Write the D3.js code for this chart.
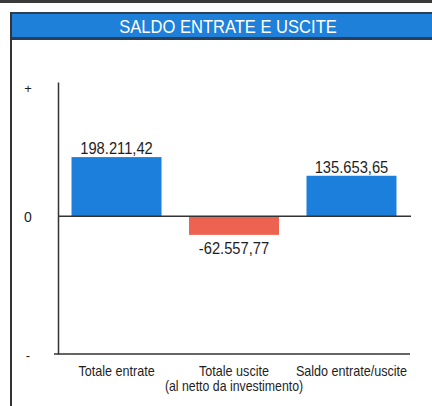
<!DOCTYPE html>
<html>
<head>
<meta charset="utf-8">
<script src="https://cdn.jsdelivr.net/npm/d3@7"></script>
<style>
  body { margin: 0; background: #fff; }
  svg { display: block; font-family: "Liberation Sans", Arial, sans-serif; }
</style>
</head>
<body>
<script>
// dati del grafico
const categories = ["Totale entrate", "Totale uscite", "Saldo entrate/uscite"];
const subLabels = ["", "(al netto da investimento)", ""];
const values = [198211.42, -62557.77, 135653.65];
const valueLabels = ["198.211,42", "-62.557,77", "135.653,65"];
const yTickLabels = ["+", "0", "-"];

const w = 432, h = 406;
const ink = "#1e1e1e";

const svg = d3.select("body").append("svg")
  .attr("width", w)
  .attr("height", h);

// cornice e intestazione
svg.append("rect").attr("x", 0).attr("y", 0).attr("width", w).attr("height", 3).attr("fill", "#3a3a3a");
svg.append("rect").attr("x", 10).attr("y", 12).attr("width", w - 10).attr("height", 28).attr("fill", "#2a3f5a");
svg.append("rect").attr("x", 11).attr("y", 14).attr("width", w - 11).attr("height", 23).attr("fill", "#1f80da");
svg.append("line")
  .attr("x1", 11).attr("x2", 11).attr("y1", 12).attr("y2", h)
  .attr("stroke", "#333").attr("stroke-width", 2);

svg.append("g")
  .attr("transform", "translate(228,33)")
  .append("text")
  .attr("transform", "scale(0.92,1)")
  .attr("text-anchor", "middle")
  .attr("fill", "#fff")
  .style("font-size", "18px")
  .text("SALDO ENTRATE E USCITE");

// scale
const xScale = d3.scaleBand()
  .domain(categories)
  .range([58, 410])
  .paddingInner(0.234)
  .paddingOuter(0.115);

const yScale = d3.scaleLinear()
  .domain([-462000, 450000])
  .range([354, 82]);

// asse y: solo la linea
const yAxis = d3.axisLeft(yScale).tickValues([]).tickSizeOuter(0);
svg.append("g")
  .attr("transform", "translate(58,0)")
  .call(yAxis)
  .call(g => g.select(".domain").attr("stroke", "#333").attr("stroke-width", 1.5));

// etichette + 0 -
const yPos = [yScale.domain()[1], 0, yScale.domain()[0]];
svg.selectAll(".ylab")
  .data(yTickLabels)
  .enter().append("text")
  .attr("class", "ylab")
  .attr("x", 28)
  .attr("y", (d, i) => yScale(yPos[i]) + (i === 0 ? 11 : 6))
  .attr("text-anchor", "middle")
  .attr("fill", ink)
  .style("font-size", (d, i) => i === 1 ? "14px" : "13px")
  .text(d => d);

// barre
svg.selectAll(".bar")
  .data(values)
  .enter().append("rect")
  .attr("class", "bar")
  .attr("x", (d, i) => xScale(categories[i]))
  .attr("width", xScale.bandwidth())
  .attr("y", d => yScale(Math.max(0, d)))
  .attr("height", d => Math.abs(yScale(d) - yScale(0)))
  .attr("fill", d => d < 0 ? "#ec6352" : "#1c7fdc");

// linea dello zero
svg.append("line")
  .attr("x1", 58).attr("x2", 411)
  .attr("y1", yScale(0)).attr("y2", yScale(0))
  .attr("stroke", "#333").attr("stroke-width", 1.5);

// asse x in basso
const xAxis = d3.axisBottom(xScale).tickSize(0).tickPadding(12);
svg.append("g")
  .attr("transform", "translate(0,354)")
  .call(xAxis)
  .call(g => g.select(".domain").attr("d", "M54,0H410").attr("stroke", "#333").attr("stroke-width", 1.5))
  .call(g => g.selectAll(".tick text")
    .attr("transform", "scale(0.9,1)")
    .attr("fill", ink)
    .style("font-size", "14px")
    .style("font-family", "'Liberation Sans', Arial, sans-serif"));

svg.selectAll(".sublab")
  .data(subLabels)
  .enter().append("g")
  .attr("class", "sublab")
  .attr("transform", (d, i) => "translate(" + (xScale(categories[i]) + xScale.bandwidth() / 2) + ",391)")
  .append("text")
  .attr("transform", "scale(0.88,1)")
  .attr("text-anchor", "middle")
  .attr("fill", ink)
  .style("font-size", "14px")
  .text(d => d);

// valori sopra/sotto le barre
svg.selectAll(".val")
  .data(values)
  .enter().append("g")
  .attr("class", "val")
  .attr("transform", (d, i) => "translate(" + (xScale(categories[i]) + xScale.bandwidth() / 2) + "," +
    (d < 0 ? yScale(d) + 19 : yScale(d) - 3) + ")")
  .append("text")
  .attr("transform", "scale(0.92,1)")
  .attr("text-anchor", "middle")
  .attr("fill", ink)
  .style("font-size", "16px")
  .text((d, i) => valueLabels[i]);
</script>
</body>
</html>
